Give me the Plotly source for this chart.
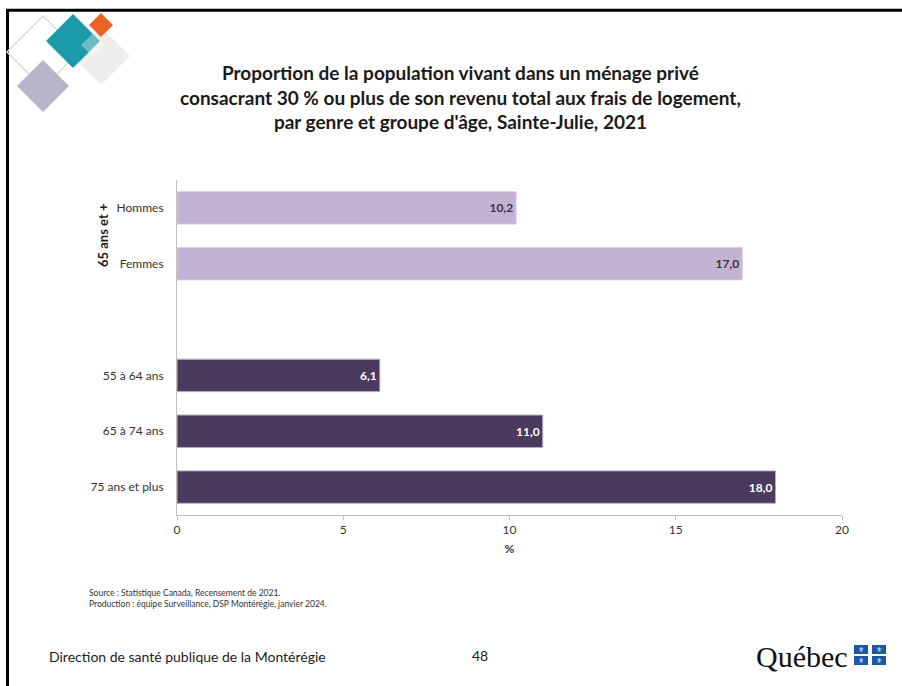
import plotly.graph_objects as go

# ---- data ----
categories = ["Hommes", "Femmes", " ", "55 à 64 ans", "65 à 74 ans", "75 ans et plus"]
values_65plus = [10.2, 17.0]
cats_65plus = ["Hommes", "Femmes"]
values_age = [6.1, 11.0, 18.0]
cats_age = ["55 à 64 ans", "65 à 74 ans", "75 ans et plus"]
x_ticks = [0, 5, 10, 15, 20]

W, H = 902, 686
L, R, T, B = 177, 842, 180, 515

def px(x):
    return (x - L) / (R - L)

def py(y):
    return (B - y) / (B - T)

def fmt(v):
    return f"{v:.1f}".replace(".", ",")

FONT = "Lato, 'Open Sans', sans-serif"

fig = go.Figure()
fig.add_trace(go.Bar(
    y=cats_65plus, x=values_65plus, orientation="h",
    marker=dict(color="#c2b3d2", line=dict(color="#d9cfe3", width=1)),
    width=0.58,
    text=[fmt(v) for v in values_65plus], textposition="inside",
    insidetextanchor="end",
    textfont=dict(family=FONT, size=12, color="#3b2f4a", weight="bold"),
    hoverinfo="skip",
))
fig.add_trace(go.Bar(
    y=cats_age, x=values_age, orientation="h",
    marker=dict(color="#4b3a5e", line=dict(color="#b8aac8", width=1)),
    width=0.58,
    text=[fmt(v) for v in values_age], textposition="inside",
    insidetextanchor="end",
    textfont=dict(family=FONT, size=12, color="#ffffff", weight="bold"),
    hoverinfo="skip",
))

shapes = []
# outer black frame (top and left)
shapes.append(dict(type="line", xref="paper", yref="paper",
                   x0=px(6), x1=px(905), y0=py(10.2), y1=py(10.2),
                   line=dict(color="black", width=3)))
shapes.append(dict(type="line", xref="paper", yref="paper",
                   x0=px(7.5), x1=px(7.5), y0=py(9), y1=py(690),
                   line=dict(color="black", width=3)))

def diamond(cx, cy, h, fill, line=None, opacity=1.0):
    path = (f"M {px(cx)},{py(cy-h)} L {px(cx+h)},{py(cy)} "
            f"L {px(cx)},{py(cy+h)} L {px(cx-h)},{py(cy)} Z")
    d = dict(type="path", xref="paper", yref="paper", path=path,
             fillcolor=fill, opacity=opacity,
             line=dict(color=line if line else "rgba(0,0,0,0)", width=1.5 if line else 0))
    return d

shapes.append(diamond(43, 52, 36, "rgba(0,0,0,0)", line="#d8ddd0"))
shapes.append(diamond(101, 56, 29, "#efedec"))
shapes.append(diamond(43, 86, 26, "#b9b3cc"))
shapes.append(diamond(73, 41, 27, "#1b9aaa"))
shapes.append(diamond(101, 25, 12, "#e86424"))
shapes.append(diamond(93, 45, 12, "rgba(255,255,255,0.35)"))

# Québec flag squares
flag_boxes = [(854, 645), (872, 645), (854, 656), (872, 656)]
for (sx, sy) in flag_boxes:
    shapes.append(dict(type="rect", xref="paper", yref="paper",
                       x0=px(sx), x1=px(sx + 14), y0=py(sy), y1=py(sy + 9),
                       fillcolor="#1d58a5", line=dict(width=0)))

annotations = []
annotations.append(dict(
    text="Proportion de la population vivant dans un ménage privé<br>"
         "consacrant 30 % ou plus de son revenu total aux frais de logement,<br>"
         "par genre et groupe d'âge, Sainte-Julie, 2021",
    xref="paper", yref="paper", x=px(460), y=py(97), xanchor="center", yanchor="middle",
    showarrow=False, font=dict(family=FONT, size=19, color="#1a1a1a", weight="bold"),
    align="center"))
annotations.append(dict(
    text="65 ans et +", xref="paper", yref="paper", x=px(103), y=py(236),
    textangle=-90, showarrow=False, xanchor="center", yanchor="middle",
    font=dict(family=FONT, size=13, color="#1a1a1a", weight="bold")))
annotations.append(dict(
    text="Source : Statistique Canada, Recensement de 2021.<br>"
         "Production : équipe Surveillance, DSP Montérégie, janvier 2024.",
    xref="paper", yref="paper", x=px(87), y=py(598), xanchor="left", yanchor="middle",
    showarrow=False, align="left", font=dict(family=FONT, size=8.5, color="#333333")))
annotations.append(dict(
    text="Direction de santé publique de la Montérégie",
    xref="paper", yref="paper", x=px(47), y=py(656), xanchor="left", yanchor="middle",
    showarrow=False, font=dict(family=FONT, size=14, color="#222222")))
annotations.append(dict(
    text="48", xref="paper", yref="paper", x=px(480), y=py(655), xanchor="center",
    yanchor="middle", showarrow=False, font=dict(family=FONT, size=14, color="#222222")))
annotations.append(dict(
    text="Québec", xref="paper", yref="paper", x=px(850), y=py(656), xanchor="right",
    yanchor="middle", showarrow=False,
    font=dict(family="'Liberation Serif', 'DejaVu Serif', serif", size=30, color="#111111")))
for (sx, sy) in flag_boxes:
    annotations.append(dict(
        text="⚜", xref="paper", yref="paper", x=px(sx + 7), y=py(sy + 4.5),
        xanchor="center", yanchor="middle", showarrow=False,
        font=dict(family="DejaVu Sans", size=7, color="white")))

fig.update_layout(
    width=W, height=H,
    margin=dict(l=L, r=W - R, t=T, b=H - B, pad=0),
    paper_bgcolor="white", plot_bgcolor="white",
    showlegend=False, barmode="overlay",
    shapes=shapes, annotations=annotations,
    xaxis=dict(range=[0, 20], tickvals=x_ticks, ticktext=[str(t) for t in x_ticks],
               showgrid=False, zeroline=False, showline=True, linecolor="#bfbfbf",
               linewidth=1, ticks="outside", ticklen=4, tickcolor="#bfbfbf",
               tickfont=dict(family=FONT, size=12, color="#333333"),
               title=dict(text="%", font=dict(family=FONT, size=12, color="#333333", weight="bold"),
                          standoff=8)),
    yaxis=dict(categoryorder="array", categoryarray=categories, autorange="reversed",
               showgrid=False, zeroline=False, showline=True,
               linecolor="#bfbfbf", linewidth=1, ticks="",
               tickfont=dict(family=FONT, size=12, color="#333333"), ticklabelstandoff=10),
)
fig.update_yaxes(type="category", tickmode="array", tickvals=categories, ticktext=categories)

fig.write_html("out.html", config={"displayModeBar": False},
               post_script="document.body.style.margin='0px';document.body.style.overflow='hidden';")
